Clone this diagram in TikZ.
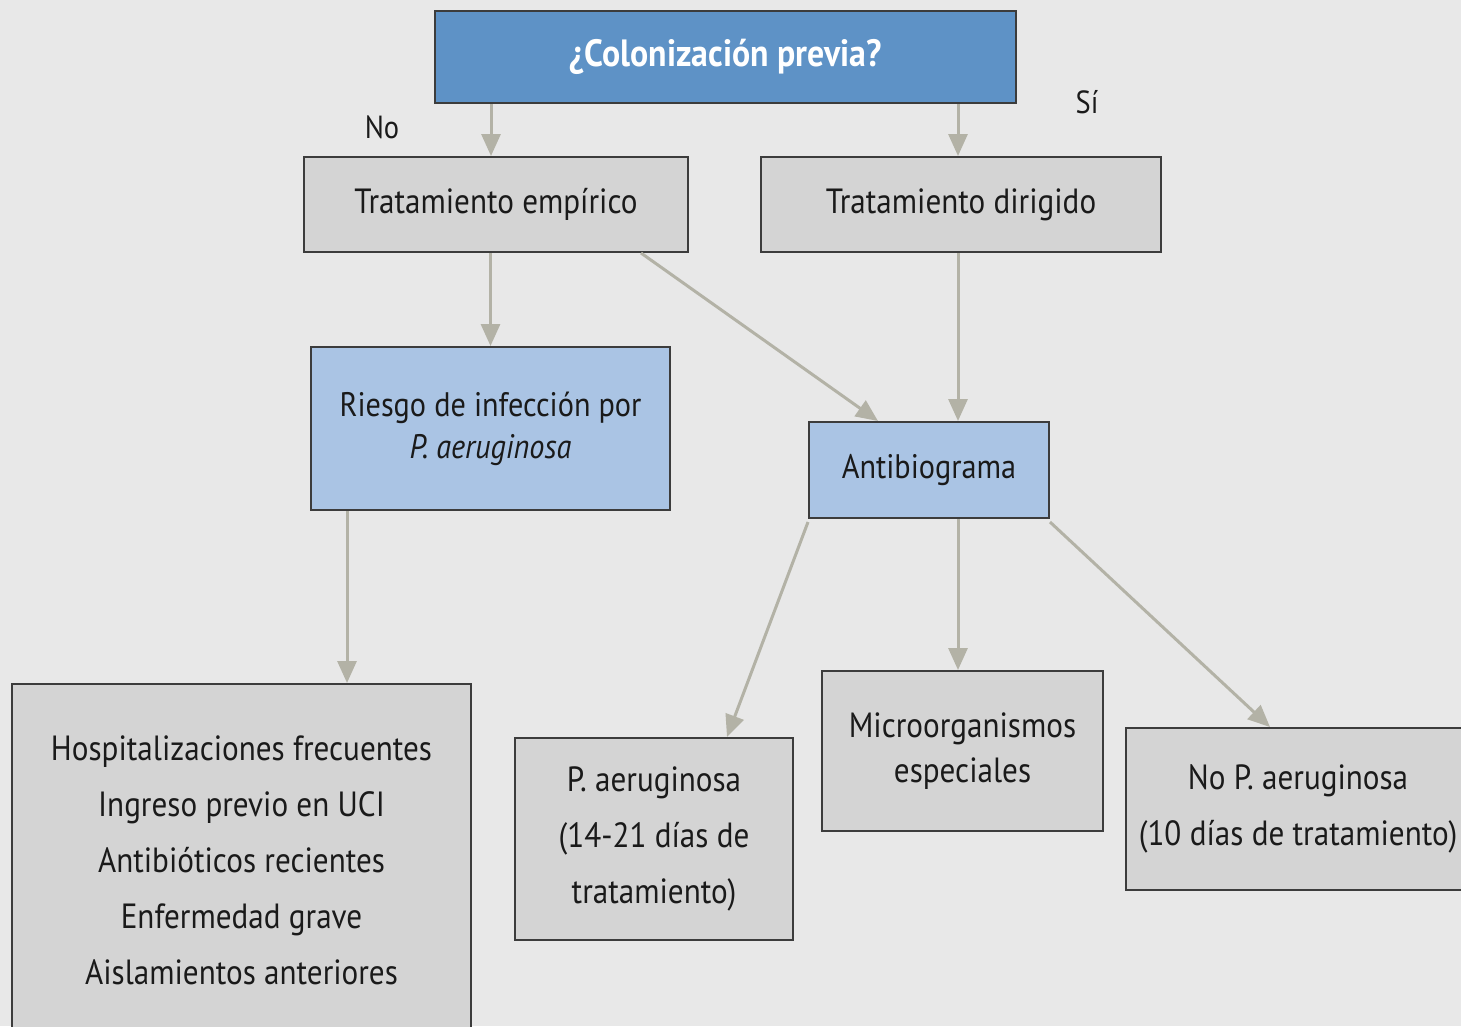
\documentclass[tikz,border=0pt]{standalone}
\usepackage{fontspec}
\setmainfont[FakeStretch=0.89]{PT Sans}
\usetikzlibrary{arrows.meta,calc}
\definecolor{bgc}{HTML}{E8E8E8}
\definecolor{grayfill}{HTML}{D4D4D4}
\definecolor{topblue}{HTML}{5E92C6}
\definecolor{lightblue}{HTML}{AAC4E4}
\definecolor{arrowc}{HTML}{B3B2A6}
\definecolor{borderc}{HTML}{3C3C3C}
\definecolor{textc}{HTML}{1A1A1A}
\tikzset{
  box/.style={draw=borderc, line width=2pt, fill=grayfill, align=center, text=textc, inner sep=0pt,
    font=\fontsize{35}{56}\selectfont},
  bluebox/.style={box, fill=lightblue},
  topbox/.style={box, fill=topblue, text=white, font=\fontsize{38}{40}\selectfont\bfseries},
  lbl/.style={text=textc, font=\fontsize{32}{36}\selectfont, inner sep=0pt},
  arr/.style={draw=arrowc, line width=3pt, -{Triangle[length=22pt,width=19pt]}}
}
\begin{document}
\begin{tikzpicture}[x=1pt,y=-1pt]
\useasboundingbox (0,0) rectangle (1461,1026);
\clip (0,0) rectangle (1461,1026);
\fill[bgc] (0,0) rectangle (1461,1026);

\node[topbox, minimum width=581pt, minimum height=92pt] (top) at (725.5,57) {¿Colonización previa?};
\node[box, minimum width=384pt, minimum height=95pt] (tre) at (496,204.5) {Tratamiento empírico};
\node[box, minimum width=400pt, minimum height=95pt] (trd) at (961,204.5) {Tratamiento dirigido};
\node[bluebox, minimum width=359pt, minimum height=163pt, font=\fontsize{34}{42}\selectfont] (rie) at (490.5,428.5) {Riesgo de infección por\\\textit{P. aeruginosa}};
\node[bluebox, minimum width=240pt, minimum height=96pt, font=\fontsize{34}{40}\selectfont] (ant) at (929,470) {Antibiograma};
\node[box, minimum width=459pt, minimum height=352pt] (hos) at (241.5,860) {Hospitalizaciones frecuentes\\Ingreso previo en UCI\\Antibióticos recientes\\Enfermedad grave\\Aislamientos anteriores};
\node[box, minimum width=278pt, minimum height=202pt] (pae) at (654,839) {P. aeruginosa\\(14-21 días de\\tratamiento)};
\node[box, minimum width=281pt, minimum height=160pt, font=\fontsize{35}{45}\selectfont] (mic) at (962.5,751) {Microorganismos\\especiales};
\node[box, minimum width=344pt, minimum height=162pt] (nop) at (1298,809) {No P. aeruginosa\\(10 días de tratamiento)};

\node[lbl] (no) at (382,127) {No};
\node[lbl] (si) at (1087,102) {Sí};

\draw[arr] ([xshift=-5pt]tre.north |- top.south) -- ([xshift=-5pt]tre.north);
\draw[arr] ([xshift=-3pt]trd.north |- top.south) -- ([xshift=-3pt]trd.north);
\draw[arr] (rie.north |- tre.south) -- (rie.north);
\draw[arr] ([xshift=-48pt]tre.south east) -- ([xshift=-51pt]ant.north);
\draw[arr] ([xshift=-3pt]trd.south) -- ([xshift=-3pt]trd.south |- ant.north);
\draw[arr] ([xshift=-143.5pt]rie.south) -- ([xshift=105.5pt]hos.north);
\draw[arr] ([yshift=-3pt]ant.south west) -- ([xshift=73pt]pae.north);
\draw[arr] ([xshift=29pt]ant.south) -- ([xshift=29pt]ant.south |- mic.north);
\draw[arr] ([yshift=-3pt]ant.south east) -- ([xshift=-28pt]nop.north);
\end{tikzpicture}
\end{document}
